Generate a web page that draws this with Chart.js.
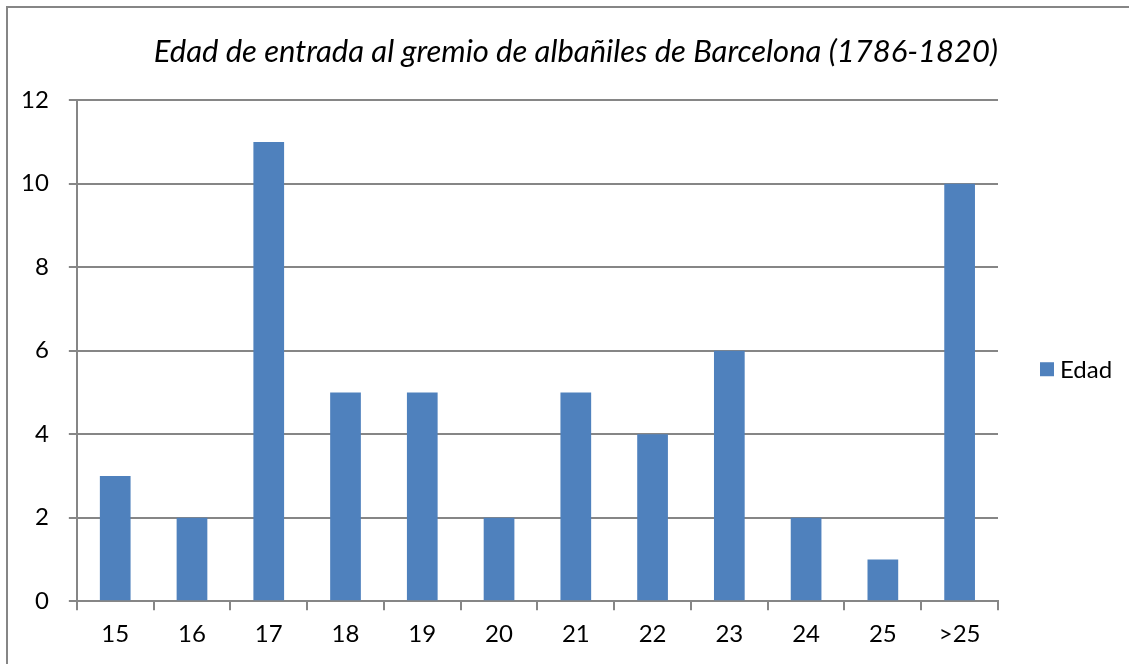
<!DOCTYPE html>
<html>
<head>
<meta charset="utf-8">
<script src="https://cdn.jsdelivr.net/npm/chart.js@4/dist/chart.umd.min.js"></script>
<style>
  html, body { margin: 0; padding: 0; background: #fff; }
  #wrap { width: 1129px; height: 664px; position: relative; }
</style>
</head>
<body>
<div id="wrap"><canvas id="grafico"></canvas></div>
<script>
// datos
var edades = ['15', '16', '17', '18', '19', '20', '21', '22', '23', '24', '25', '>25'];
var valores = [3, 2, 11, 5, 5, 2, 5, 4, 6, 2, 1, 10];
var ticksY = [0, 2, 4, 6, 8, 10, 12];
var titulo = 'Edad de entrada al gremio de albañiles de Barcelona (1786-1820)';
var nombreSerie = 'Edad';

var gris = '#868686';
var azul = '#4F81BD';

// marco exterior del grafico
const marco = {
  id: 'marco',
  beforeDraw(chart) {
    const ctx = chart.ctx;
    ctx.save();
    ctx.fillStyle = '#fff';
    ctx.fillRect(0, 0, chart.width, chart.height);
    ctx.strokeStyle = gris;
    ctx.lineWidth = 2;
    ctx.strokeRect(7, 7, chart.width + 20, chart.height + 20);
    ctx.restore();
  }
};

// leyenda a la derecha, como en Excel
const leyenda = {
  id: 'leyenda',
  afterDraw(chart) {
    const ctx = chart.ctx;
    const area = chart.chartArea;
    const ds = chart.data.datasets[0];
    const y = area.top + (area.bottom - area.top) * 0.537;
    const x = 1040;
    ctx.save();
    ctx.fillStyle = ds.backgroundColor;
    ctx.fillRect(x, y - 7, 14, 14);
    ctx.fillStyle = '#000';
    ctx.font = '24px Lato';
    ctx.textBaseline = 'middle';
    ctx.fillText(ds.label, x + 20, y + 1);
    ctx.restore();
  }
};

let dados = {
  labels: edades,
  datasets: [{
    label: nombreSerie,
    data: valores,
    backgroundColor: azul,
    barPercentage: 0.4,
    categoryPercentage: 1.0
  }]
};

const config = {
  type: 'bar',
  data: dados,
  options: {
    responsive: false,
    animation: false,
    layout: { padding: { left: 1, right: 131, top: 0, bottom: 5 } },
    plugins: {
      legend: { display: false },
      tooltip: { enabled: false },
      title: {
        display: true,
        text: titulo,
        align: 'end',
        color: '#000',
        font: { family: 'Lato', size: 31, style: 'italic', weight: 'normal' },
        padding: { top: 33, bottom: 30 }
      }
    },
    scales: {
      x: {
        grid: { display: true, drawOnChartArea: false, drawTicks: true, tickLength: 9, color: gris, lineWidth: 2 },
        border: { display: true, color: gris, width: 2 },
        ticks: { color: '#000', font: { family: 'Lato', size: 24 }, padding: 10 }
      },
      y: {
        min: 0,
        max: 12,
        afterBuildTicks(axis) { axis.ticks = ticksY.map(v => ({ value: v })); },
        grid: { color: gris, lineWidth: 2, tickLength: 8 },
        border: { display: true, color: gris, width: 2 },
        ticks: { color: '#000', font: { family: 'Lato', size: 24 }, padding: 20 }
      }
    }
  },
  plugins: [marco, leyenda]
};

const canvas = document.getElementById('grafico');
canvas.width = 1129;
canvas.height = 664;
let chartGeral = new Chart(canvas, config);
</script>
</body>
</html>
